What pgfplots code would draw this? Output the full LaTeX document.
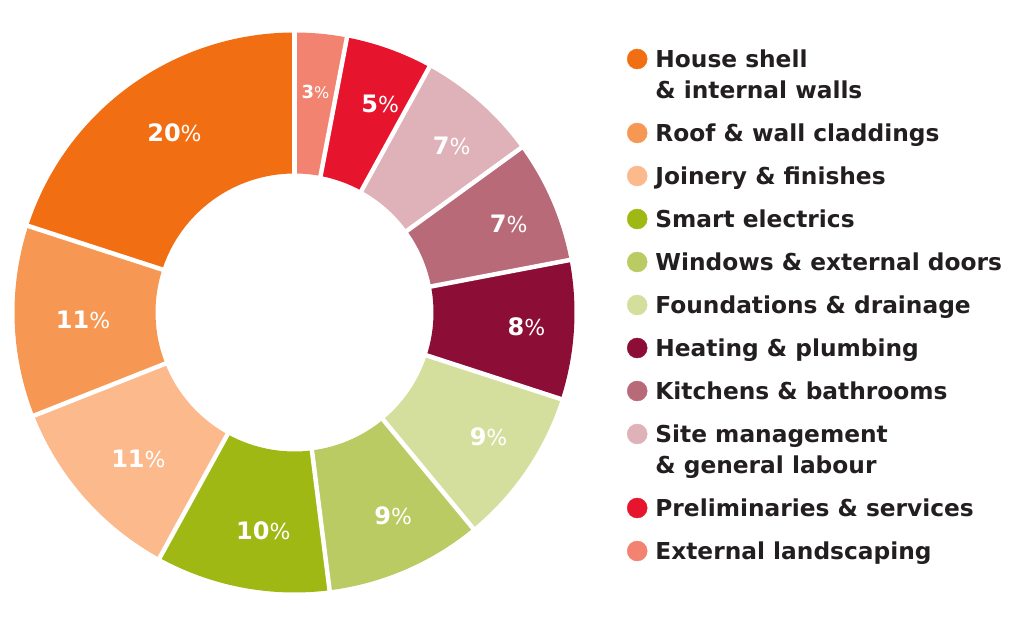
\documentclass[border=0pt]{standalone}
\usepackage{pgfplots}
\pgfplotsset{compat=1.18}
\usepackage{pgfplotstable}
\usepackage{fontspec}
\setmainfont{DejaVu Sans}

\definecolor{cHouse}{HTML}{F26E12}
\definecolor{cRoof}{HTML}{F69853}
\definecolor{cJoin}{HTML}{FBB98C}
\definecolor{cSmart}{HTML}{A0B814}
\definecolor{cWin}{HTML}{BBCB63}
\definecolor{cFound}{HTML}{D4DF9E}
\definecolor{cHeat}{HTML}{8C0D36}
\definecolor{cKit}{HTML}{B96A79}
\definecolor{cSite}{HTML}{DFB2B9}
\definecolor{cPre}{HTML}{E6142D}
\definecolor{cExt}{HTML}{F28370}
\definecolor{txt}{HTML}{231F20}

% slices clockwise from 12 o'clock; whole=1 centres the label with its % sign
\pgfplotstableread{
value color size whole
3  cExt   18 1
5  cPre   24 0
7  cSite  24 0
7  cKit   24 0
8  cHeat  24 0
9  cFound 24 0
9  cWin   24 0
10 cSmart 24 0
11 cJoin  24 0
11 cRoof  24 0
20 cHouse 24 0
}\slices

\newcommand\twoline[2]{\vtop{\baselineskip=31pt\lineskiplimit=-20pt
  \hbox{\strut #1}\hbox{\strut #2}}}
\newcommand\slicelab[3]{{\fontsize{#2}{#2}\selectfont\bfseries #1}%
  \ifnum#3=1 {\fontsize{\numexpr#2-2\relax}{#2}\selectfont\%}%
  \else\rlap{\fontsize{\numexpr#2-2\relax}{#2}\selectfont\%}\fi}
\newcommand\legdot[1]{\addlegendimage{legend image code/.code={\fill[#1] (10pt,9pt) circle[radius=10pt];}}}

\begin{document}
\begin{tikzpicture}
\begin{axis}[
    x=1pt, y=1pt,
    xmin=0, xmax=1024, ymin=0, ymax=628,
    hide axis, clip=false,
    legend style={at={(axis cs:627,580)}, anchor=north west,
        draw=none, fill=none, inner sep=0pt, outer sep=0pt,
        row sep=0pt, column sep=8pt,
        cells={anchor=base west},
        nodes={inner sep=0pt, text=txt, text height=20pt, text depth=23pt,
            font=\fontsize{23.3}{31}\selectfont\bfseries}},
]
\path (axis cs:0,0) rectangle (axis cs:1024,628);

\pgfplotstablegetrowsof{\slices}
\pgfmathtruncatemacro\N{\pgfplotsretval-1}
\def\acc{0}
\pgfplotsforeachungrouped \i in {0,...,\N}{%
  \pgfplotstablegetelem{\i}{value}\of\slices \let\val\pgfplotsretval
  \pgfplotstablegetelem{\i}{color}\of\slices \let\col\pgfplotsretval
  \pgfplotstablegetelem{\i}{size}\of\slices \let\siz\pgfplotsretval
  \pgfplotstablegetelem{\i}{whole}\of\slices \let\whl\pgfplotsretval
  \pgfmathsetmacro\aS{90-3.6*\acc}
  \pgfmathsetmacro\aE{90-3.6*(\acc+\val)}
  \pgfmathsetmacro\aM{(\aS+\aE)/2}
  \edef\temp{%
    \noexpand\fill[\col, shift={(axis cs:294.5,315.5)}] (\aS:280pt)
      arc[start angle=\aS, end angle=\aE, radius=280pt] -- (\aE:139pt)
      arc[start angle=\aE, end angle=\aS, radius=139pt] -- cycle;
    \noexpand\node[text=white, shift={(axis cs:294.5,315.5)}] at (\aM:222pt)
      {\noexpand\slicelab{\val}{\siz}{\whl}};
  }\temp
  \pgfmathsetmacro\acc{\acc+\val}
}
% white gaps between slices
\def\acc{0}
\pgfplotsforeachungrouped \i in {0,...,\N}{%
  \pgfplotstablegetelem{\i}{value}\of\slices \let\val\pgfplotsretval
  \pgfmathsetmacro\aS{90-3.6*\acc}
  \edef\temp{%
    \noexpand\draw[white, line width=4.5pt, shift={(axis cs:294.5,315.5)}]
      (\aS:130pt) -- (\aS:290pt);
  }\temp
  \pgfmathsetmacro\acc{\acc+\val}
}

\legdot{cHouse} \addlegendentry[text depth=54pt]{\twoline{House shell}{\& internal walls}}
\legdot{cRoof}  \addlegendentry{Roof \& wall claddings}
\legdot{cJoin}  \addlegendentry{Joinery \& finishes}
\legdot{cSmart} \addlegendentry{Smart electrics}
\legdot{cWin}   \addlegendentry{Windows \& external doors}
\legdot{cFound} \addlegendentry{Foundations \& drainage}
\legdot{cHeat}  \addlegendentry{Heating \& plumbing}
\legdot{cKit}   \addlegendentry{Kitchens \& bathrooms}
\legdot{cSite}  \addlegendentry[text depth=54pt]{\twoline{Site management}{\& general labour}}
\legdot{cPre}   \addlegendentry{Preliminaries \& services}
\legdot{cExt}   \addlegendentry{External landscaping}
\end{axis}
\end{tikzpicture}
\end{document}
